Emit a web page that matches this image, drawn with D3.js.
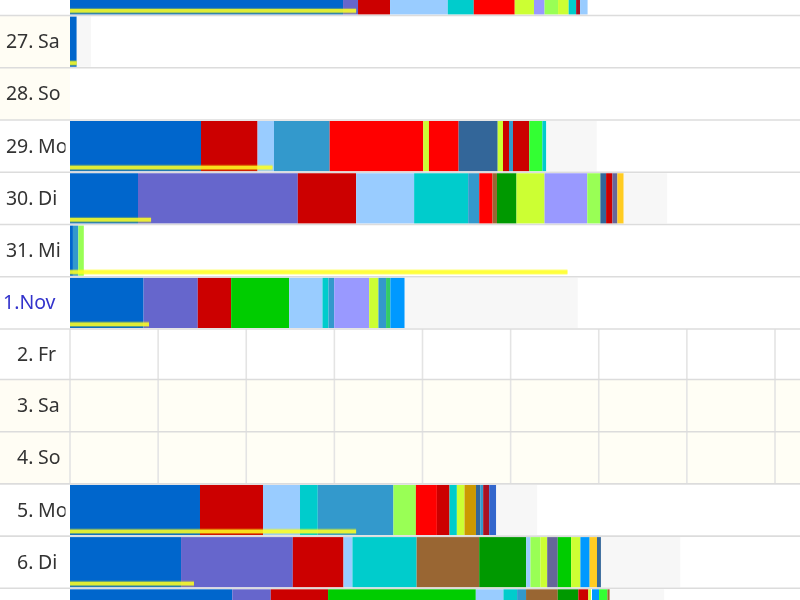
<!DOCTYPE html>
<html>
<head>
<meta charset="utf-8">
<script src="https://cdn.jsdelivr.net/npm/d3@7"></script>
<style>
  html, body { margin: 0; padding: 0; background: #fff; overflow: hidden; }
  svg { display: block; filter: blur(0.6px); }
  text { font-family: "Noto Sans", sans-serif; font-size: 19.5px; fill: #333; }
</style>
</head>
<body>
<div id="viz"></div>
<script>
const w = 800, h = 600;

// row labels, one per day (first and last row sit outside the photographed window)
const days = ["26. Fr", "27. Sa", "28. So", "29. Mo", "30. Di", "31. Mi", "1.Nov", "2. Fr", "3. Sa", "4. So", "5. Mo", "6. Di", "7. Mi"];
const labelledDays = days.slice(1, -1);
const weekendDays = ["27. Sa", "28. So", "3. Sa", "4. So"];
const closedWeekend = ["3. Sa", "4. So"];
const griddedDays = ["2. Fr", "3. Sa", "4. So"];
const monthStart = ["1.Nov"];

// task colours
const palette = {
  blue: "#0066cc", purple: "#6666cc", darkred: "#cc0000", sky: "#99ccff", teal: "#00cccc",
  steel: "#3399cc", red: "#ff0000", lime: "#ccff33", peri: "#9999ff", mint: "#99ff55",
  maroon: "#aa1122", denim: "#336699", neon: "#33ff33", brown: "#996633", forest: "#009900",
  green: "#00cc00", azure: "#0099ff", gold: "#ffcc22", amber: "#cc9900", slate: "#666699",
  royal: "#3366cc", sea: "#33cc66", idle: "#f7f7f7", gap: "#ffffff"
};

// minutes per task, in order
const oct26 = [["blue", 185.9], ["purple", 10.2], ["darkred", 21.8], ["sky", 39.3], ["teal", 17.7], ["red", 27.9], ["lime", 13.1], ["peri", 7.2], ["mint", 9.2], ["lime", 7.2], ["teal", 5.1], ["maroon", 2.7], ["sky", 5.1]];
const oct27 = [["blue", 4.6], ["idle", 9.7]];
const oct29 = [["blue", 89.2], ["darkred", 38.5], ["sky", 11.2], ["steel", 37.9], ["red", 63.7], ["lime", 3.9], ["red", 20.2], ["denim", 26.6], ["lime", 3.6], ["darkred", 4.1], ["steel", 2.7], ["darkred", 11.1], ["neon", 8.9], ["teal", 2.7], ["idle", 34.3]];
const oct30 = [["blue", 46.3], ["purple", 108.8], ["darkred", 39.7], ["sky", 39.5], ["teal", 36.8], ["steel", 7.5], ["red", 9.1], ["brown", 3], ["forest", 13.3], ["lime", 19.1], ["peri", 29.1], ["mint", 8.9], ["denim", 3.9], ["darkred", 4.3], ["slate", 3.4], ["gold", 4.3], ["idle", 29.6]];
const oct31 = [["blue", 2], ["steel", 3.7], ["mint", 3.7]];
const nov1 = [["blue", 50.1], ["purple", 36.9], ["darkred", 22.7], ["green", 39.5], ["sky", 22.7], ["teal", 4.1], ["steel", 3.9], ["peri", 23.8], ["lime", 6.3], ["steel", 5.2], ["sea", 2.9], ["azure", 9.8], ["idle", 117.8]];
const nov5 = [["blue", 88.5], ["darkred", 42.9], ["sky", 25.2], ["teal", 12.1], ["steel", 51.5], ["mint", 15.3], ["red", 14.3], ["darkred", 8.6], ["teal", 5], ["lime", 5.2], ["amber", 7.8], ["denim", 2.9], ["steel", 2], ["maroon", 4.1], ["royal", 4.8], ["idle", 27.9]];
const nov6 = [["blue", 75.6], ["purple", 76.1], ["darkred", 34.5], ["sky", 6.1], ["teal", 43.7], ["brown", 42.6], ["forest", 32], ["sky", 2.9], ["mint", 6.8], ["lime", 4.6], ["slate", 7.2], ["green", 9.1], ["lime", 6.3], ["azure", 6.3], ["gold", 5], ["denim", 2.7], ["idle", 54]];
const nov7 = [["blue", 110.5], ["purple", 26.2], ["darkred", 39], ["green", 100.6], ["sky", 18.8], ["teal", 9.3], ["steel", 6.1], ["brown", 21.6], ["forest", 14], ["darkred", 6.8], ["lime", 1.8], ["gap", 0.7], ["azure", 4.8], ["neon", 5.7], ["brown", 1.6], ["idle", 37]];
const segments = { "26. Fr": oct26, "27. Sa": oct27, "29. Mo": oct29, "30. Di": oct30, "31. Mi": oct31, "1.Nov": nov1, "5. Mo": nov5, "6. Di": nov6, "7. Mi": nov7 };

// yellow target line under each bar, minutes
const targets = { "26. Fr": 194.8, "27. Sa": 4.6, "29. Mo": 137.9, "30. Di": 55.2, "31. Mi": 338.7, "1.Nov": 53.8, "5. Mo": 194.8, "6. Di": 84.4 };

const hourTicks = [0, 60, 120, 180, 240, 300, 360, 420, 480];

const svg = d3.select("#viz")
  .append("svg")
  .attr("width", w)
  .attr("height", h)
  .attr("viewBox", "0 0 800 600");

const labelW = 70;
const xScale = d3.scaleLinear().domain([0, 480]).range([labelW, 775]);
// rows are not quite even in the window: the 2 Nov row is a little shorter
const edgeScale = d3.scaleLinear().domain([0, 1, 7, 8, 13]).range([-36.75, 15.5, 329, 379.5, 640.5]);
const yScale = d => edgeScale(days.indexOf(d));
const rowHeight = d => edgeScale(days.indexOf(d) + 1) - edgeScale(days.indexOf(d));

svg.append("clipPath").attr("id", "labelClip")
  .append("rect").attr("width", 65.5).attr("height", h);

// row backgrounds
svg.selectAll(".labelBg")
  .data(weekendDays)
  .enter()
  .append("rect")
  .attr("x", 0).attr("width", labelW)
  .attr("y", d => yScale(d)).attr("height", d => rowHeight(d))
  .style("fill", "#fffdf4");

svg.selectAll(".plotBg")
  .data(closedWeekend)
  .enter()
  .append("rect")
  .attr("x", labelW).attr("width", w - labelW)
  .attr("y", d => yScale(d)).attr("height", d => rowHeight(d))
  .style("fill", "#fffef5");

// vertical grid only on the empty days
griddedDays.forEach(function (day) {
  svg.selectAll(null)
    .data(hourTicks)
    .enter()
    .append("line")
    .attr("x1", d => xScale(d)).attr("x2", d => xScale(d))
    .attr("y1", yScale(day)).attr("y2", yScale(day) + rowHeight(day))
    .attr("stroke", "#e4e4e4")
    .attr("stroke-width", 1.6);
});

// stacked task bars
days.filter(d => segments[d]).forEach(function (day) {
  const rows = segments[day];
  const ends = d3.cumsum(rows, d => d[1]);
  svg.selectAll(null)
    .data(rows)
    .enter()
    .append("rect")
    .attr("x", (d, i) => xScale(i ? ends[i - 1] : 0))
    .attr("width", (d, i) => xScale(ends[i]) - xScale(i ? ends[i - 1] : 0))
    .attr("y", yScale(day) + 1)
    .attr("height", rowHeight(day) - 2)
    .style("fill", d => palette[d[0]]);
});

// target lines, soft edge plus a stronger core
const targetDays = days.filter(d => targets[d] !== undefined);
svg.selectAll(".targetEdge")
  .data(targetDays)
  .enter()
  .append("rect")
  .attr("x", xScale(0))
  .attr("width", d => xScale(targets[d]) - xScale(0))
  .attr("y", d => yScale(d) + rowHeight(d) - 7.6)
  .attr("height", 5.8)
  .style("fill", "#ffff00")
  .style("opacity", 0.3);

svg.selectAll(".targetCore")
  .data(targetDays)
  .enter()
  .append("rect")
  .attr("x", xScale(0))
  .attr("width", d => xScale(targets[d]) - xScale(0))
  .attr("y", d => yScale(d) + rowHeight(d) - 6.5)
  .attr("height", 3.6)
  .style("fill", "#ffff22")
  .style("opacity", 0.82);

// row separators
svg.selectAll(".rowLine")
  .data(days)
  .enter()
  .append("line")
  .attr("x1", 0).attr("x2", w)
  .attr("y1", d => yScale(d) + rowHeight(d)).attr("y2", d => yScale(d) + rowHeight(d))
  .attr("stroke", "#dcdcdc")
  .attr("stroke-width", 1.6);

// day labels: number right aligned, weekday left aligned, cut at the cell edge
const labels = svg.append("g").attr("clip-path", "url(#labelClip)");
labelledDays.forEach(function (day) {
  const ty = yScale(day) + rowHeight(day) / 2 + 6.5;
  if (monthStart.includes(day)) {
    labels.append("text").attr("x", 3).attr("y", ty).style("fill", "#3333cc").text(day);
    return;
  }
  const parts = day.split(" ");
  labels.append("text").attr("x", 33.5).attr("y", ty).attr("text-anchor", "end").text(parts[0]);
  labels.append("text").attr("x", 38).attr("y", ty).text(parts[1]);
});
</script>
</body>
</html>
